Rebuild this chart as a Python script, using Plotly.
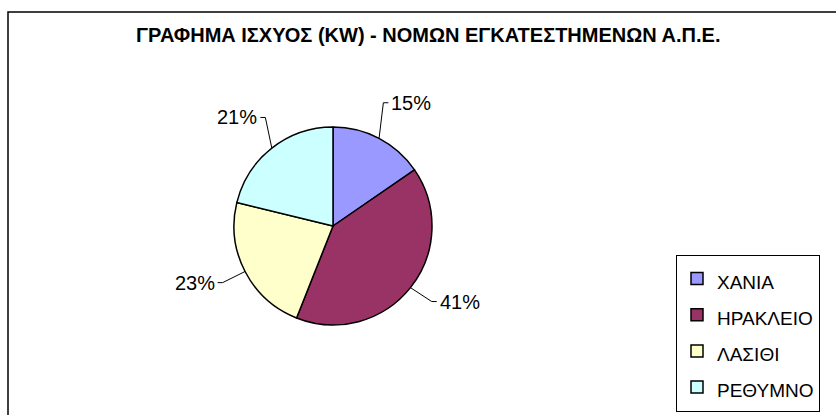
import math
import plotly.graph_objects as go

# ---- data ----
title_text = "ΓΡΑΦΗΜΑ ΙΣΧΥΟΣ (KW) - ΝΟΜΩΝ ΕΓΚΑΤΕΣΤΗΜΕΝΩΝ Α.Π.Ε."
labels = ["ΧΑΝΙΑ", "ΗΡΑΚΛΕΙΟ", "ΛΑΣΙΘΙ", "ΡΕΘΥΜΝΟ"]
values = [15.4, 40.6, 22.8, 21.2]
colors = ["#9999FF", "#993366", "#FFFFCC", "#CCFFFF"]

# ---- layout constants ----
W, H = 836, 415
CX, CY, R = 333, 226, 99          # pie centre / radius in px
FONT = "Liberation Sans, Arial, sans-serif"

dom_x = [(CX - R) / W, (CX + R) / W]
dom_y = [1 - (CY + R) / H, 1 - (CY - R) / H]

legend_labels = [f"<span style='font-size:19px'>{l}</span>" for l in labels]

fig = go.Figure()
fig.add_trace(go.Pie(
    labels=legend_labels, values=values, sort=False, direction="clockwise", rotation=0,
    marker=dict(colors=colors, line=dict(color="black", width=1.5)),
    textinfo="none", hoverinfo="label+percent",
    domain=dict(x=dom_x, y=dom_y),
))

def px(x):
    return x / W

def py(y):
    return 1 - y / H

# percentage labels with Excel-like leader lines, computed from the data
total = sum(values)
shapes = []
annotations = []
cum = 0.0
for v in values:
    frac = v / total
    mid = (cum + frac / 2) * 2 * math.pi
    cum += frac
    s, c = math.sin(mid), math.cos(mid)
    ex, ey = CX + R * s, CY - R * c                 # point on the rim
    kx, ky = 1.2 - 0.12 * c, 1.3 + 0.12 * c
    bx, by = CX + R * kx * s, CY - R * ky * c       # elbow
    side = 1 if s >= 0 else -1
    tx = bx + 5 * side
    shapes.append(dict(type="path", xref="paper", yref="paper",
                       path=f"M {px(ex)} {py(ey)} L {px(bx)} {py(by)} L {px(tx)} {py(by)}",
                       line=dict(color="black", width=1)))
    annotations.append(dict(x=px(tx + 1 * side), y=py(by), xref="paper", yref="paper",
                            text=f"{round(frac * 100)}%", showarrow=False,
                            xanchor="left" if side > 0 else "right", yanchor="middle",
                            font=dict(family=FONT, size=20, color="black")))

# outer chart border
shapes.append(dict(type="rect", xref="paper", yref="paper",
                   x0=8 / W, x1=1.02, y0=-0.02, y1=1 - 12 / H,
                   line=dict(color="black", width=1.5)))

annotations.append(dict(x=0.5 * (122 + 733) / W, y=1 - 35.5 / H, xref="paper", yref="paper",
                        text=f"<b>{title_text}</b>", showarrow=False,
                        xanchor="center", yanchor="middle",
                        font=dict(family=FONT, size=20, color="black")))

fig.update_layout(
    width=W, height=H, autosize=False,
    margin=dict(l=0, r=0, t=0, b=0),
    paper_bgcolor="white", plot_bgcolor="white",
    shapes=shapes, annotations=annotations,
    showlegend=True,
    legend=dict(x=676 / W, y=1 - 333 / H, xanchor="left", yanchor="middle",
                bordercolor="black", borderwidth=1, bgcolor="white",
                font=dict(family=FONT, size=25.5, color="black"),
                itemwidth=30, traceorder="normal"),
)

fig.write_html("out.html", config={"displayModeBar": False},
               post_script="document.body.style.margin='0';")
